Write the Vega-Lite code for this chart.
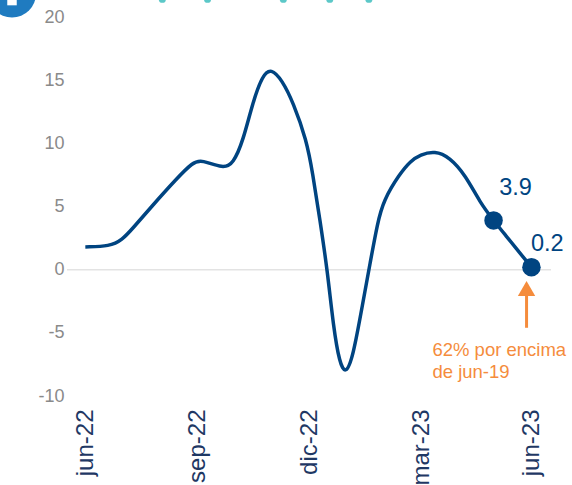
{
"$schema":"https://vega.github.io/schema/vega-lite/v6.json",
"width":484,"height":379,
"autosize":{"type":"none"},
"padding":{"left":67,"top":17,"right":21,"bottom":89},
"background":"white",
"view":{"stroke":null},
"config":{"font":"Liberation Sans"},
"datasets":{
"zero":[{"d":"2022-05-17","v":0},{"d":"2023-06-17","v":0}],
"curve":[
{"d":"2022-06-01","v":1.8},{"d":"2022-06-21","v":1.85},{"d":"2022-07-01","v":2.34},{"d":"2022-07-10","v":3.29},{"d":"2022-07-24","v":4.87},{"d":"2022-08-15","v":7.24},{"d":"2022-08-28","v":8.5},{"d":"2022-09-04","v":8.7},{"d":"2022-09-22","v":8.0},{"d":"2022-09-30","v":8.4},{"d":"2022-10-08","v":10.17},{"d":"2022-10-16","v":13.26},{"d":"2022-10-24","v":15.4},{"d":"2022-10-31","v":15.95},{"d":"2022-11-09","v":15.0},{"d":"2022-11-18","v":13.26},{"d":"2022-11-29","v":10.25},{"d":"2022-12-04","v":7.64},{"d":"2022-12-10","v":3.92},{"d":"2022-12-16","v":-0.04},{"d":"2022-12-21","v":-4.55},{"d":"2022-12-26","v":-7.4},{"d":"2022-12-31","v":-8.3},{"d":"2023-01-06","v":-6.93},{"d":"2023-01-14","v":-2.65},{"d":"2023-01-20","v":0.51},{"d":"2023-01-26","v":3.68},{"d":"2023-01-31","v":5.5},{"d":"2023-02-13","v":7.56},{"d":"2023-02-22","v":8.59},{"d":"2023-03-02","v":9.1},{"d":"2023-03-14","v":9.4},{"d":"2023-03-26","v":8.9},{"d":"2023-04-08","v":7.48},{"d":"2023-04-20","v":5.3},{"d":"2023-05-01","v":3.9},{"d":"2023-05-11","v":2.7},{"d":"2023-05-21","v":1.5},{"d":"2023-06-01","v":0.2}],
"last":[{"d":"2023-05-01","v":3.9},{"d":"2023-06-01","v":0.2}],
"vals":[{"d":"2023-05-19","v":6.5,"t":"3.9"},{"d":"2023-06-14","v":2.0,"t":"0.2"}],
"note":[{"d":"2023-03-12","v":-6.36,"t":"62% por encima"},{"d":"2023-03-12","v":-8.1,"t":"de jun-19"}],
"shaft":[{"d":"2023-05-28","v":-4.6},{"d":"2023-05-28","v":-2.0}],
"head":[{"d":"2023-05-28","v":-1.5}],
"badge":[{"d":"2022-04-02","v":21.86}],
"badgei":[{"d":"2022-04-02","v":21.3}],
"dots":[{"d":"2022-08-03","v":21.4},{"d":"2022-09-09","v":21.4},{"d":"2022-11-10","v":21.4},{"d":"2022-12-18","v":21.4},{"d":"2023-01-19","v":21.4}]
},
"encoding":{
"x":{"field":"d","type":"temporal","title":null,
"scale":{"type":"utc","domain":["2022-05-17","2023-06-17"]},
"axis":{"values":["2022-06-01","2022-09-01","2022-12-01","2023-03-03","2023-06-01"],"labelExpr":"replace(lower(utcFormat(datum.value,'%b-%y')),'dec','dic')","labelAngle":-90,"labelAlign":"right","labelBaseline":"middle","labelFontSize":24,"labelColor":"#1F3864","labelPadding":13,"ticks":false,"domain":false,"grid":false,"labelOverlap":false}},
"y":{"field":"v","type":"quantitative","title":null,
"scale":{"domain":[-10,20],"nice":false},
"axis":{"values":[-10,-5,0,5,10,15,20],"labelExpr":"replace(format(datum.value,'d'),'−','-')","labelFontSize":18,"labelColor":"#8a8a8a","labelPadding":3,"ticks":false,"domain":false,"grid":false}}
},
"layer":[
{"data":{"name":"zero"},"mark":{"type":"line","color":"#e3e3e3","strokeWidth":1.5}},
{"data":{"name":"curve"},"mark":{"type":"line","interpolate":"basis","color":"#004481","strokeWidth":3.5}},
{"data":{"name":"last"},"mark":{"type":"point","filled":true,"opacity":1,"size":342,"color":"#004481"}},
{"data":{"name":"vals"},"mark":{"type":"text","fontSize":23.5,"color":"#004481"},"encoding":{"text":{"field":"t"}}},
{"data":{"name":"shaft"},"mark":{"type":"line","color":"#F58C3C","strokeWidth":3}},
{"data":{"name":"head"},"mark":{"type":"point","shape":"triangle-up","filled":true,"opacity":1,"size":300,"color":"#F58C3C"}},
{"data":{"name":"note"},"mark":{"type":"text","fontSize":18.5,"align":"left","color":"#F58C3C"},"encoding":{"text":{"field":"t"}}},
{"data":{"name":"badge"},"mark":{"type":"point","filled":true,"opacity":1,"size":2304,"color":"#1F7BC0","clip":false}},
{"data":{"name":"badgei"},"mark":{"type":"point","shape":"square","filled":true,"opacity":1,"size":90,"color":"white"}},
{"data":{"name":"dots"},"mark":{"type":"point","filled":true,"opacity":1,"size":50,"color":"#5CC8C8"}}
]
}
